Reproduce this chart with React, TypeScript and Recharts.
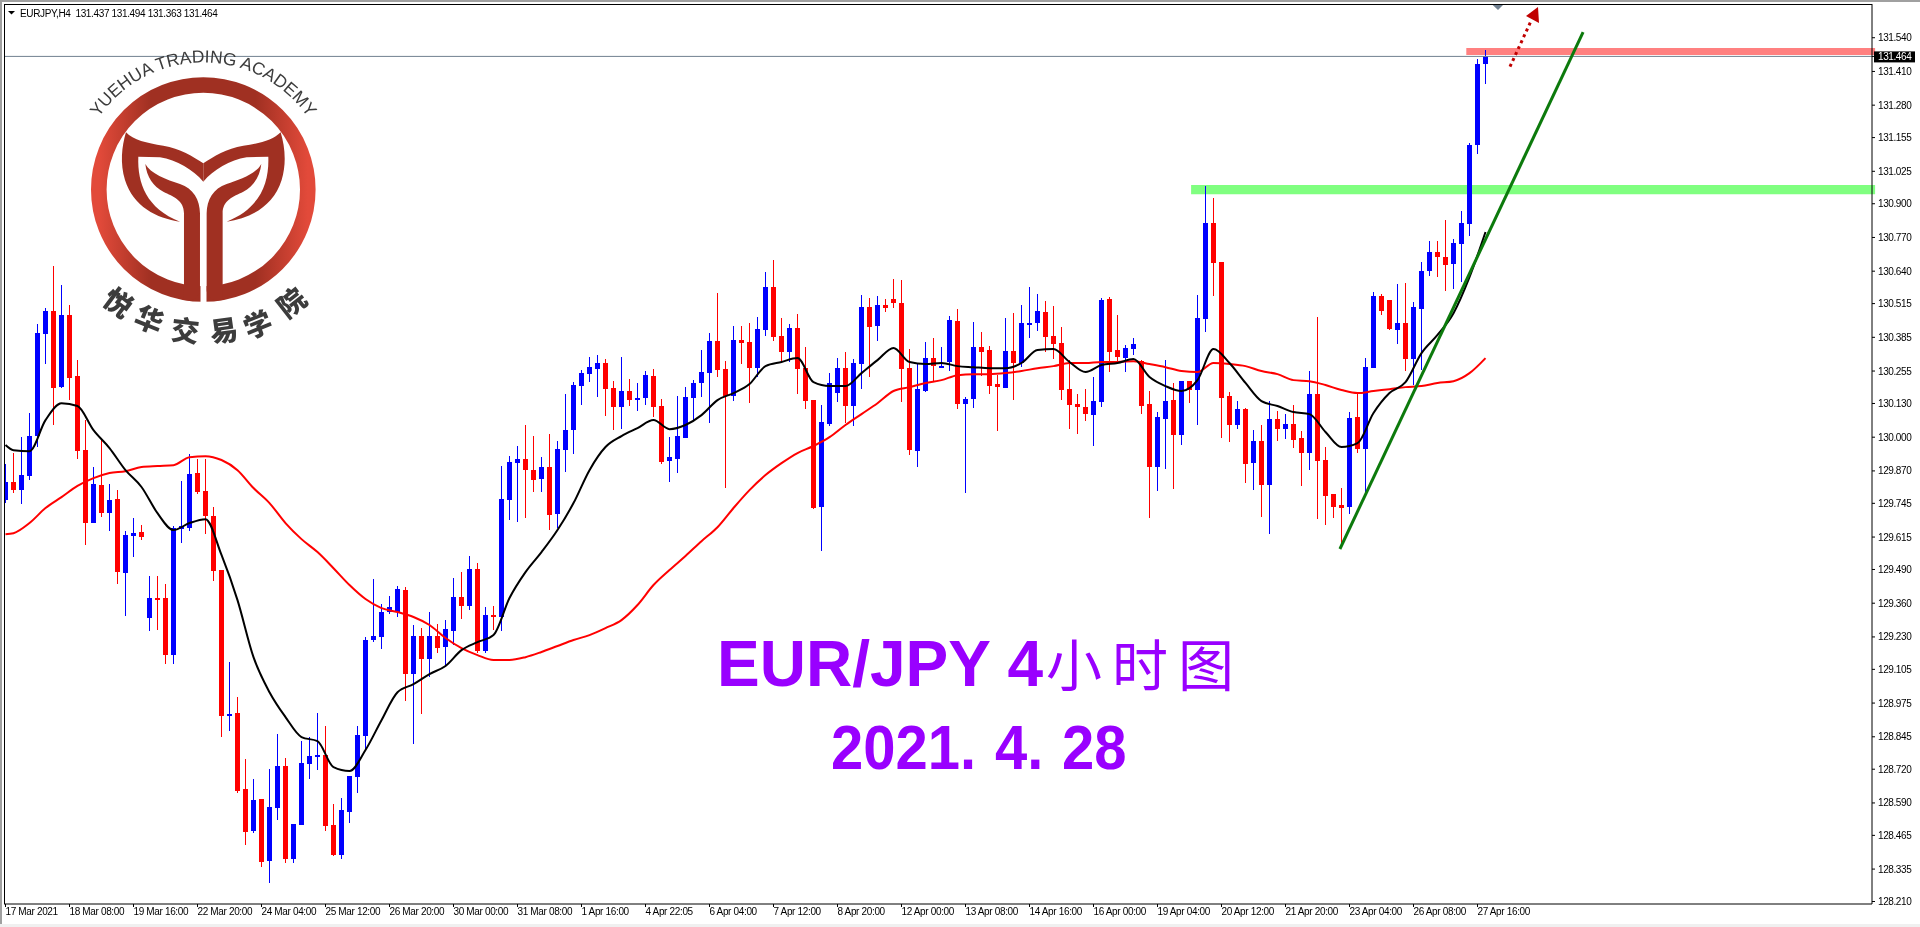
import { Bar, ComposedChart, Line, ReferenceArea, ReferenceLine, XAxis, YAxis } from 'recharts';

const opens = [
  129.758, 129.827, 129.796, 129.85, 130.004, 130.397, 130.486, 130.193, 130.471, 130.236,
  129.95, 129.669, 129.815, 129.707, 129.761, 129.476, 129.619, 129.634, 129.303, 129.38,
  129.38, 129.16, 129.646, 129.65, 129.862, 129.792, 129.696, 129.488, 128.929, 128.936,
  128.643, 128.482, 128.605, 128.366, 128.57, 128.732, 128.374, 128.505, 128.74, 128.767,
  128.774, 128.505, 128.389, 128.555, 128.69, 128.848, 129.218, 129.229, 129.326, 129.326,
  129.411, 129.087, 129.233, 129.145, 129.233, 129.191, 129.253, 129.384, 129.349, 129.492,
  129.175, 129.314, 129.307, 129.758, 129.9, 129.916, 129.873, 129.838, 129.885, 129.704,
  129.95, 130.027, 130.197, 130.243, 130.262, 130.286, 130.189, 130.116, 130.178, 130.143,
  130.151, 130.236, 130.12, 129.908, 129.916, 129.996, 130.151, 130.209, 130.247, 130.37,
  130.262, 130.158, 130.374, 130.367, 130.266, 130.413, 130.579, 130.39, 130.328, 130.421,
  130.266, 130.143, 129.731, 130.051, 130.17, 130.266, 130.12, 130.282, 130.502, 130.428,
  130.509, 130.532, 130.517, 130.266, 129.946, 130.178, 130.305, 130.27, 130.29, 130.448,
  130.128, 130.147, 130.347, 130.336, 130.205, 130.189, 130.332, 130.286, 130.432, 130.44,
  130.482, 130.39, 130.363, 130.185, 130.128, 130.116, 130.085, 130.135, 130.532, 130.336,
  130.305, 130.34, 130.293, 130.128, 129.885, 130.07, 130.143, 130.008, 130.216, 130.182,
  130.455, 130.825, 130.675, 130.158, 130.047, 130.108, 129.9, 129.985, 129.815, 130.07,
  130.031, 130.051, 129.996, 129.939, 130.166, 129.912, 129.781, 129.738, 129.731, 130.077,
  129.954, 130.266, 130.544, 130.529, 130.413, 130.44, 130.301, 130.494, 130.64, 130.714,
  130.694, 130.667, 130.744, 130.821, 131.126, 131.437,
];

const highs = [
  129.896, 129.939, 130.0, 130.093, 130.436, 130.498, 130.66, 130.586, 130.509, 130.297,
  130.066, 129.885, 129.989, 129.819, 129.796, 129.638, 129.688, 129.661, 129.465, 129.465,
  129.434, 129.657, 129.831, 129.935, 129.916, 129.916, 129.731, 129.488, 129.133, 128.998,
  128.759, 128.682, 128.605, 128.72, 128.855, 128.763, 128.508, 128.828, 128.844, 128.936,
  128.886, 128.586, 128.609, 128.694, 128.886, 129.229, 129.453, 129.357, 129.387, 129.426,
  129.422, 129.276, 129.264, 129.326, 129.28, 129.295, 129.457, 129.48, 129.542, 129.515,
  129.345, 129.349, 129.889, 129.927, 129.966, 130.047, 130.004, 129.923, 130.012, 129.985,
  130.166, 130.212, 130.259, 130.309, 130.316, 130.301, 130.216, 130.309, 130.224, 130.209,
  130.255, 130.262, 130.147, 130.0, 130.158, 130.193, 130.22, 130.336, 130.401, 130.556,
  130.293, 130.428, 130.428, 130.44, 130.463, 130.636, 130.683, 130.459, 130.436, 130.475,
  130.347, 130.143, 130.124, 130.247, 130.305, 130.328, 130.301, 130.548, 130.536, 130.544,
  130.532, 130.61, 130.606, 130.34, 130.282, 130.367, 130.382, 130.347, 130.467, 130.494,
  130.155, 130.444, 130.405, 130.351, 130.239, 130.459, 130.478, 130.509, 130.579, 130.552,
  130.525, 130.505, 130.424, 130.297, 130.166, 130.185, 130.232, 130.536, 130.54, 130.471,
  130.355, 130.382, 130.297, 130.178, 130.097, 130.297, 130.209, 130.216, 130.216, 130.548,
  130.968, 130.922, 130.675, 130.174, 130.139, 130.112, 130.027, 130.047, 130.139, 130.101,
  130.089, 130.124, 130.024, 130.255, 130.463, 129.962, 129.781, 129.804, 130.097, 130.17,
  130.305, 130.559, 130.552, 130.529, 130.59, 130.594, 130.521, 130.675, 130.756, 130.756,
  130.837, 130.764, 130.872, 131.134, 131.458, 131.494,
];

const lows = [
  129.746, 129.785, 129.742, 129.835, 129.962, 130.282, 130.047, 130.189, 130.143, 129.916,
  129.584, 129.669, 129.692, 129.638, 129.434, 129.31, 129.538, 129.603, 129.253, 129.256,
  129.125, 129.125, 129.592, 129.638, 129.781, 129.626, 129.445, 128.844, 128.867, 128.628,
  128.428, 128.474, 128.343, 128.281, 128.524, 128.358, 128.358, 128.505, 128.682, 128.717,
  128.482, 128.385, 128.374, 128.512, 128.628, 128.794, 129.21, 129.183, 129.318, 129.307,
  128.983, 128.817, 128.933, 129.075, 129.168, 129.114, 129.199, 129.299, 129.333, 129.168,
  129.168, 129.256, 129.253, 129.68, 129.673, 129.688, 129.788, 129.788, 129.642, 129.65,
  129.865, 129.935, 130.124, 130.212, 130.155, 130.081, 130.027, 130.031, 130.12, 130.101,
  130.124, 130.077, 129.896, 129.827, 129.862, 129.996, 130.066, 130.155, 130.054, 130.232,
  129.804, 130.139, 130.282, 130.131, 130.232, 130.39, 130.37, 130.293, 130.29, 130.166,
  130.108, 129.723, 129.561, 130.043, 130.135, 130.054, 130.043, 130.185, 130.232, 130.37,
  130.482, 130.498, 130.135, 129.931, 129.885, 130.174, 130.212, 130.266, 130.255, 130.108,
  129.785, 130.112, 130.236, 130.166, 130.024, 130.189, 130.143, 130.27, 130.382, 130.409,
  130.328, 130.301, 130.143, 130.031, 130.012, 130.062, 129.966, 130.116, 130.251, 130.286,
  130.251, 130.316, 130.089, 129.688, 129.792, 129.877, 129.8, 129.97, 130.131, 130.047,
  130.405, 130.544, 129.996, 129.981, 130.031, 129.823, 129.796, 129.692, 129.626, 129.985,
  129.993, 129.958, 129.812, 129.873, 129.684, 129.661, 129.688, 129.584, 129.704, 129.939,
  129.788, 130.266, 130.471, 130.413, 130.359, 130.255, 130.201, 130.259, 130.621, 130.617,
  130.563, 130.571, 130.598, 130.775, 131.091, 131.363,
];

const closes = [
  129.827, 129.796, 129.854, 130.004, 130.401, 130.486, 130.189, 130.471, 130.228, 129.946,
  129.669, 129.819, 129.707, 129.758, 129.48, 129.623, 129.63, 129.615, 129.38, 129.372,
  129.16, 129.65, 129.657, 129.858, 129.788, 129.696, 129.484, 128.925, 128.933, 128.636,
  128.478, 128.601, 128.362, 128.574, 128.732, 128.374, 128.508, 128.744, 128.771, 128.774,
  128.501, 128.389, 128.562, 128.694, 128.852, 129.218, 129.233, 129.326, 129.345, 129.414,
  129.087, 129.233, 129.145, 129.233, 129.187, 129.26, 129.384, 129.349, 129.492, 129.175,
  129.314, 129.307, 129.761, 129.904, 129.916, 129.873, 129.835, 129.885, 129.7, 129.954,
  130.027, 130.201, 130.247, 130.27, 130.286, 130.185, 130.116, 130.178, 130.143, 130.151,
  130.239, 130.116, 129.904, 129.923, 130.004, 130.155, 130.209, 130.251, 130.37, 130.259,
  130.158, 130.374, 130.363, 130.266, 130.417, 130.579, 130.386, 130.328, 130.421, 130.262,
  130.139, 129.727, 130.058, 130.209, 130.266, 130.12, 130.286, 130.502, 130.424, 130.509,
  130.498, 130.517, 130.262, 129.95, 130.185, 130.305, 130.274, 130.274, 130.451, 130.128,
  130.147, 130.347, 130.328, 130.197, 130.193, 130.332, 130.286, 130.44, 130.44, 130.486,
  130.386, 130.359, 130.182, 130.124, 130.116, 130.089, 130.139, 130.529, 130.328, 130.309,
  130.344, 130.359, 130.12, 129.885, 130.077, 130.139, 130.008, 130.216, 130.182, 130.459,
  130.825, 130.671, 130.151, 130.047, 130.108, 129.896, 129.985, 129.815, 130.07, 130.031,
  130.051, 129.989, 129.939, 130.166, 129.908, 129.773, 129.731, 129.727, 130.074, 129.954,
  130.27, 130.544, 130.486, 130.417, 130.44, 130.301, 130.502, 130.64, 130.714, 130.694,
  130.663, 130.748, 130.825, 131.126, 131.438, 131.468,
];

// moving averages, read at the first candle and then at every odd candle
const fastMa = [
  129.97, 129.95, 129.946, 130.066, 130.131, 130.12, 130.027, 129.958, 129.873, 129.808,
  129.707, 129.642, 129.669, 129.684, 129.546, 129.372, 129.152, 129.017, 128.921, 128.844,
  128.828, 128.728, 128.713, 128.794, 128.909, 129.017, 129.048, 129.087, 129.118, 129.179,
  129.21, 129.237, 129.38, 129.48, 129.557, 129.642, 129.746, 129.873, 129.962, 130.004,
  130.035, 130.066, 130.031, 130.047, 130.085, 130.143, 130.17, 130.205, 130.274, 130.29,
  130.305, 130.212, 130.197, 130.197, 130.247, 130.297, 130.344, 130.29, 130.282, 130.286,
  130.274, 130.27, 130.266, 130.266, 130.286, 130.336, 130.34, 130.29, 130.251, 130.278,
  130.286, 130.301, 130.232, 130.197, 130.178, 130.22, 130.34, 130.286, 130.209, 130.139,
  130.12, 130.097, 130.089, 130.02, 129.962, 129.977, 130.093, 130.17, 130.212, 130.324,
  130.394, 130.478, 130.617, 130.791,
];

const slowMa = [
  129.626, 129.63, 129.669, 129.727, 129.769, 129.812, 129.842, 129.862, 129.869, 129.885,
  129.889, 129.892, 129.923, 129.927, 129.912, 129.873, 129.804, 129.746, 129.669, 129.607,
  129.557, 129.495, 129.43, 129.376, 129.341, 129.326, 129.307, 129.276, 129.226, 129.187,
  129.16, 129.141, 129.141, 129.152, 129.172, 129.195, 129.218, 129.237, 129.264, 129.295,
  129.353, 129.43, 129.488, 129.542, 129.599, 129.653, 129.727, 129.796, 129.854, 129.9,
  129.939, 129.966, 130.0, 130.047, 130.089, 130.131, 130.178, 130.193, 130.209, 130.22,
  130.239, 130.243, 130.243, 130.247, 130.255, 130.266, 130.274, 130.286, 130.286, 130.29,
  130.29, 130.293, 130.282, 130.27, 130.255, 130.251, 130.286, 130.282, 130.274, 130.255,
  130.243, 130.22, 130.216, 130.201, 130.182, 130.17, 130.178, 130.185, 130.193, 130.197,
  130.209, 130.216, 130.247, 130.305,
];

const priceTicks = [
  131.54, 131.41, 131.28, 131.155, 131.025, 130.9, 130.77, 130.64, 130.515, 130.385, 130.255, 130.13, 130.0,
  129.87, 129.745, 129.615, 129.49, 129.36, 129.23, 129.105, 128.975, 128.845, 128.72, 128.59, 128.465, 128.335, 128.21,
];

const timeLabels = [
  '17 Mar 2021', '18 Mar 08:00', '19 Mar 16:00', '22 Mar 20:00', '24 Mar 04:00', '25 Mar 12:00',
  '26 Mar 20:00', '30 Mar 00:00', '31 Mar 08:00', '1 Apr 16:00', '4 Apr 22:05', '6 Apr 04:00',
  '7 Apr 12:00', '8 Apr 20:00', '12 Apr 00:00', '13 Apr 08:00', '14 Apr 16:00', '16 Apr 00:00',
  '19 Apr 04:00', '20 Apr 12:00', '21 Apr 20:00', '23 Apr 04:00', '26 Apr 08:00', '27 Apr 16:00',
];

const bidLevel = 131.468;
const bidLabel = '131.464';
const TICK_STEP = 8;

const rows = opens.map((open, slot) => {
  const maIndex = slot === 0 ? 0 : slot % 2 === 1 ? (slot + 1) / 2 : -1;
  return {
    slot,
    open,
    high: highs[slot],
    low: lows[slot],
    close: closes[slot],
    fast: maIndex >= 0 ? fastMa[maIndex] : null,
    slow: maIndex >= 0 ? slowMa[maIndex] : null,
  };
});

const timeTicks = timeLabels.map((_, i) => i * TICK_STEP);
const axisFont = '"Liberation Sans", sans-serif';

function Candle(props: any) {
  const { x, y, width, height, payload } = props;
  const { open, high, low, close } = payload;
  const full = Math.abs(height);
  const top = Math.min(y, y + height);
  const perPrice = full / (high - low);
  const cx = x + width / 2;
  const color = close >= open ? '#0000ff' : '#ff0000';
  const bodyTop = Math.round(top + (high - Math.max(open, close)) * perPrice);
  const bodyBottom = Math.round(top + (high - Math.min(open, close)) * perPrice);
  return (
    <g shapeRendering="crispEdges">
      <rect x={cx - 0.5} y={Math.round(top)} width={1} height={Math.max(1, Math.round(full))} fill={color} />
      <rect x={cx - 2.5} y={bodyTop} width={5} height={Math.max(2, bodyBottom - bodyTop)} fill={color} />
    </g>
  );
}

function PriceTick({ x, y, payload }: any) {
  if (payload.value === bidLevel) {
    return (
      <g>
        <rect x={1874} y={y - 5} width={41} height={11} fill="#000" />
        <text x={1878} y={y + 4} fontSize={10} letterSpacing={-0.4} fontFamily={axisFont} fill="#fff">
          {bidLabel}
        </text>
      </g>
    );
  }
  return (
    <text x={x} y={y + 3.5} fontSize={10} letterSpacing={-0.4} fontFamily={axisFont} fill="#000">
      {payload.value.toFixed(3)}
    </text>
  );
}

function TimeTick({ x, y, payload }: any) {
  return (
    <text x={x} y={y + 7} fontSize={10} letterSpacing={-0.35} fontFamily={axisFont} fill="#000">
      {timeLabels[payload.value / TICK_STEP]}
    </text>
  );
}

function Logo() {
  const leaf =
    'M378 397 C400 420 440 430 490 437 C540 445 580 470 610 490 L610 545 C580 510 530 480 480 472 L415 470 C412 550 440 625 540 665 C470 655 400 620 375 540 C360 490 365 440 378 397 Z';
  const stem =
    'M436 492 C450 520 500 540 540 552 C580 565 600 600 600 640 L600 870 C600 885 585 900 570 902 L552 900 L552 640 C552 600 520 590 490 575 C460 560 440 530 436 492 Z';
  const glyphs = [
    { c: '悦', x: 118, y: 303, r: 37 },
    { c: '华', x: 149, y: 320, r: 22 },
    { c: '交', x: 185, y: 331, r: 7 },
    { c: '易', x: 224, y: 331, r: -8 },
    { c: '学', x: 258, y: 325, r: -22 },
    { c: '院', x: 292, y: 303, r: -38 },
  ];
  return (
    <g>
      <defs>
        <linearGradient id="ring">
          <stop offset="0" stopColor="#e24a3a" />
          <stop offset="0.25" stopColor="#a03022" />
          <stop offset="0.75" stopColor="#a03022" />
          <stop offset="1" stopColor="#e24a3a" />
        </linearGradient>
        <path id="logoArc" d="M 93.3 126 A 127 127 0 0 1 313.3 126" />
      </defs>
      <circle cx={203.3} cy={189.5} r={104.5} fill="none" stroke="url(#ring)" strokeWidth={15.6} />
      <rect x={200.5} y={280} width={6} height={24} fill="#fff" />
      <g transform="scale(0.3333)" fill="#a03022">
        <path d={leaf} />
        <path d={leaf} transform="translate(1220 0) scale(-1 1)" />
        <path d={stem} />
        <path d={stem} transform="translate(1220 0) scale(-1 1)" />
      </g>
      <text fontFamily='"Liberation Sans", sans-serif' fontSize={17.5} fill="#3c3c3c">
        <textPath href="#logoArc" startOffset="50%" textAnchor="middle">
          YUEHUA TRADING ACADEMY
        </textPath>
      </text>
      {glyphs.map((g) => (
        <text
          key={g.c}
          transform={`translate(${g.x} ${g.y}) rotate(${g.r})`}
          textAnchor="middle"
          y={10}
          fontFamily='"Noto Sans CJK SC", sans-serif'
          fontWeight={900}
          fontSize={28}
          fill="#3c3c3c"
        >
          {g.c}
        </text>
      ))}
    </g>
  );
}

function Overlay() {
  return (
    <svg width={1920} height={927} style={{ position: 'absolute', left: 0, top: 0, pointerEvents: 'none' }}>
      {/* window edges and frame */}
      <rect x={0} y={0} width={1920} height={2} fill="#a0a0a0" />
      <rect x={0} y={0} width={2} height={927} fill="#a0a0a0" />
      <rect x={0} y={924} width={1920} height={3} fill="#f0f0f0" />
      <rect x={4} y={4} width={1868} height={1} fill="#000" />
      <rect x={4} y={4} width={1} height={900} fill="#000" />

      <path d="M8 11 L15 11 L11.5 14.5 Z" fill="#000" />
      <text x={20} y={16.5} fontSize={10} letterSpacing={-0.35} fontFamily={axisFont} fill="#000" xmlSpace="preserve">
        EURJPY,H4  131.437 131.494 131.363 131.464
      </text>
      <path d="M1492.7 5 L1503 5 L1498 10 Z" fill="#708090" />

      <line x1={1510} y1={66.7} x2={1531} y2={21} stroke="#c00000" strokeWidth={3} strokeDasharray="3 3.5" />
      <path d="M1538 7 L1526 16 L1539 23 Z" fill="#c00000" />

      <Logo />

      <text x={717} y={686} fontFamily='"Liberation Sans", sans-serif' fontWeight={700} fontSize={64} fill="#9900ff">
        EUR/JPY 4
      </text>
      <text x={1046} y={686} fontFamily='"Noto Sans CJK SC", sans-serif' fontSize={56} letterSpacing={10} fill="#9900ff">
        小时图
      </text>
      <g
        transform="translate(0 769) scale(1 1.1)"
        fontFamily='"Liberation Sans", sans-serif'
        fontWeight={700}
        fontSize={58}
        fill="#9900ff"
      >
        <text x={831} y={0}>2021.</text>
        <text x={995} y={0}>4.</text>
        <text x={1062} y={0}>28</text>
      </g>
    </svg>
  );
}

export default function App() {
  return (
    <div style={{ position: 'absolute', left: 0, top: 0, width: 1920, height: 927, background: '#fff', overflow: 'hidden' }}>
      <ComposedChart width={1920} height={927} data={rows} margin={{ top: 4, right: 0, bottom: 0, left: 4 }}>
        <XAxis
          dataKey="slot"
          type="number"
          scale="linear"
          domain={[-0.1875, 233.3125]}
          ticks={timeTicks}
          interval={0}
          height={23}
          tickSize={3}
          tickMargin={1}
          tick={<TimeTick />}
          stroke="#000"
          allowDataOverflow
        />
        <YAxis
          orientation="right"
          type="number"
          domain={[128.2004, 131.67]}
          ticks={[...priceTicks, bidLevel]}
          interval={0}
          width={48}
          tickSize={3}
          tickMargin={3}
          tick={<PriceTick />}
          stroke="#000"
          allowDataOverflow
        />
        <Bar dataKey={(d: any) => [d.low, d.high]} barSize={5} shape={<Candle />} isAnimationActive={false} />
        <Line type="monotone" dataKey="slow" stroke="#ff0000" strokeWidth={2} dot={false} connectNulls isAnimationActive={false} />
        <Line type="monotone" dataKey="fast" stroke="#000000" strokeWidth={2} dot={false} connectNulls isAnimationActive={false} />
        <ReferenceLine y={bidLevel} stroke="#708090" strokeWidth={1} />
        <ReferenceArea
          x1={148.2}
          x2={233.7}
          y1={130.937}
          y2={130.972}
          fill="#80ff80"
          fillOpacity={1}
          stroke="none"
          ifOverflow="visible"
          style={{ mixBlendMode: 'multiply' }}
        />
        <ReferenceArea
          x1={182.6}
          x2={233.7}
          y1={131.473}
          y2={131.5}
          fill="#ff8080"
          fillOpacity={1}
          stroke="none"
          ifOverflow="visible"
          style={{ mixBlendMode: 'multiply' }}
        />
        <ReferenceLine
          segment={[
            { x: 166.8, y: 129.569 },
            { x: 197.2, y: 131.562 },
          ]}
          stroke="#0c7a0c"
          strokeWidth={3}
          ifOverflow="visible"
        />
      </ComposedChart>
      <Overlay />
    </div>
  );
}
